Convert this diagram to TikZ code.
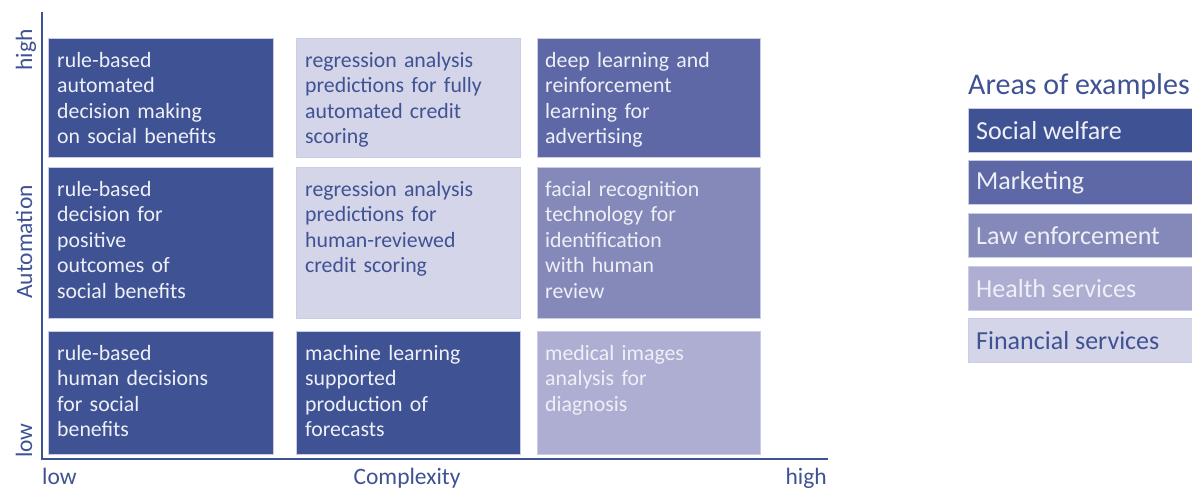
\documentclass[tikz,border=0pt]{standalone}
\usepackage{fontspec}
\setmainfont{Carlito}
\definecolor{cSW}{HTML}{3F5294}
\definecolor{cMK}{HTML}{5E68A6}
\definecolor{cLE}{HTML}{8589B9}
\definecolor{cHS}{HTML}{AEAED3}
\definecolor{cFS}{HTML}{D4D5E8}
\definecolor{cTxt}{HTML}{EEF0F7}
\definecolor{cEdge}{HTML}{C9CCE2}
\begin{document}
\begin{tikzpicture}[x=1pt,y=-1pt,
  cell/.style={draw=cEdge, line width=0.6pt, rectangle, anchor=north west, inner sep=0pt},
  celltext/.style={anchor=base west, inner sep=0pt, align=left, text width=215pt,
    font=\fontsize{21.8}{25.5}\selectfont},
  legbox/.style={draw=cEdge, line width=0.6pt, rectangle, anchor=north west, inner sep=0pt,
    minimum width=224pt, minimum height=44pt},
  legtext/.style={anchor=west, inner sep=0pt, font=\fontsize{26}{30}\selectfont},
  axislab/.style={text=cSW, inner sep=0pt, font=\fontsize{23.5}{28}\selectfont},
  axisline/.style={draw=cSW, line width=2.5pt}
]
\useasboundingbox (0,0) rectangle (1192,488);
% axes
\coordinate (ytop) at (42,12);
\coordinate (orig) at (42,459);
\coordinate (xend) at (828,459);
\draw[axisline] (ytop) -- (orig) -- (xend);
\node[axislab, rotate=90, anchor=base east] (yhigh) at (32,29) {high};
\node[axislab, rotate=90, anchor=base] (yname) at (32,242) {Automation};
\node[axislab, rotate=90, anchor=base west] (ylow) at (32,458) {low};
\node[axislab, anchor=base west] (xlow) at (42,484) {low};
\node[axislab, anchor=base] (xname) at (407,484) {Complexity};
\node[axislab, anchor=base east] (xhigh) at (827,484) {high};
% cells: columns x=48,296,537 ; rows y=38,167,331
\node[cell, fill=cSW, minimum width=225pt, minimum height=119pt] (c11) at (48,38) {};
\node[cell, fill=cFS, minimum width=224pt, minimum height=119pt] (c12) at (296,38) {};
\node[cell, fill=cMK, minimum width=223pt, minimum height=119pt] (c13) at (537,38) {};
\node[cell, fill=cSW, minimum width=225pt, minimum height=151pt] (c21) at (48,167) {};
\node[cell, fill=cFS, minimum width=224pt, minimum height=151pt] (c22) at (296,167) {};
\node[cell, fill=cLE, minimum width=223pt, minimum height=151pt] (c23) at (537,167) {};
\node[cell, fill=cSW, minimum width=225pt, minimum height=123pt] (c31) at (48,331) {};
\node[cell, fill=cSW, minimum width=224pt, minimum height=123pt] (c32) at (296,331) {};
\node[cell, fill=cHS, minimum width=223pt, minimum height=123pt] (c33) at (537,331) {};
% cell texts (first baseline about 29pt below the top of the cell)
\node[celltext, text=cTxt] (t11) at ([xshift=9pt,yshift=-29pt]c11.north west) {rule-based\\automated\\decision making\\on social benefits};
\node[celltext, text=cSW] (t12) at ([xshift=9pt,yshift=-29pt]c12.north west) {regression analysis\\predictions for fully\\automated credit\\scoring};
\node[celltext, text=cTxt] (t13) at ([xshift=8pt,yshift=-29pt]c13.north west) {deep learning and\\reinforcement\\learning for\\advertising};
\node[celltext, text=cTxt] (t21) at ([xshift=9pt,yshift=-29pt]c21.north west) {rule-based\\decision for\\positive\\outcomes of\\social benefits};
\node[celltext, text=cSW] (t22) at ([xshift=9pt,yshift=-29pt]c22.north west) {regression analysis\\predictions for\\human-reviewed\\credit scoring};
\node[celltext, text=cTxt] (t23) at ([xshift=8pt,yshift=-29pt]c23.north west) {facial recognition\\technology for\\identification\\with human\\review};
\node[celltext, text=cTxt] (t31) at ([xshift=9pt,yshift=-29pt]c31.north west) {rule-based\\human decisions\\for social\\benefits};
\node[celltext, text=cTxt] (t32) at ([xshift=9pt,yshift=-29pt]c32.north west) {machine learning\\supported\\production of\\forecasts};
\node[celltext, text=cTxt] (t33) at ([xshift=8pt,yshift=-29pt]c33.north west) {medical images\\analysis for\\diagnosis};
% legend
\node[anchor=base west, inner sep=0pt, text=cSW, font=\fontsize{30}{34}\selectfont] (legtitle) at (968,94) {Areas of examples};
\node[legbox, fill=cSW] (l1) at (968,108) {};
\node[legbox, fill=cMK] (l2) at (968,160) {};
\node[legbox, fill=cLE] (l3) at (968,213) {};
\node[legbox, fill=cHS] (l4) at (968,266) {};
\node[legbox, fill=cFS] (l5) at (968,318) {};
\node[legtext, text=cTxt] (lt1) at ([xshift=8pt]l1.west) {Social welfare};
\node[legtext, text=cTxt] (lt2) at ([xshift=8pt]l2.west) {Marketing};
\node[legtext, text=cTxt] (lt3) at ([xshift=8pt]l3.west) {Law enforcement};
\node[legtext, text=cTxt] (lt4) at ([xshift=8pt]l4.west) {Health services};
\node[legtext, text=cSW] (lt5) at ([xshift=8pt]l5.west) {Financial services};
\end{tikzpicture}
\end{document}
